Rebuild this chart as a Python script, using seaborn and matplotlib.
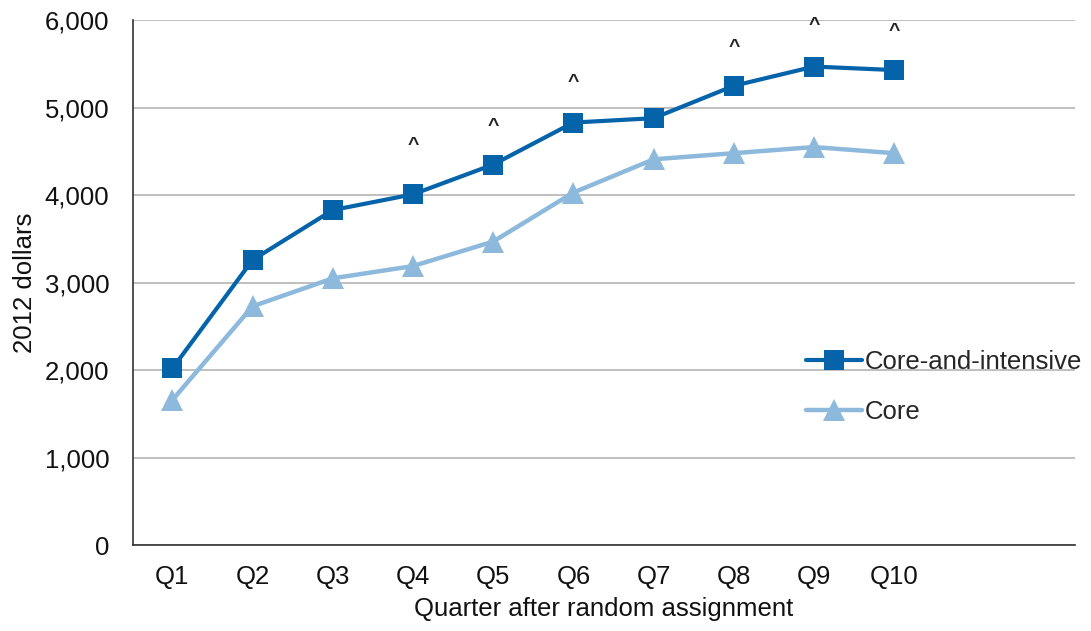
import numpy as np
import pandas as pd
import matplotlib
matplotlib.use("Agg")
import matplotlib.pyplot as plt
import seaborn as sns

quarters = ["Q1", "Q2", "Q3", "Q4", "Q5", "Q6", "Q7", "Q8", "Q9", "Q10"]
core_intensive = [2020, 3260, 3830, 4010, 4350, 4830, 4880, 5250, 5470, 5430]
core = [1660, 2730, 3050, 3190, 3470, 4030, 4410, 4480, 4550, 4480]
# quarters flagged with "^" and where the mark sits
caret_quarters = ["Q4", "Q5", "Q6", "Q8", "Q9", "Q10"]
caret_y = [4570, 4790, 5290, 5690, 5940, 5870]

sns.set_theme(style="white")
plt.rcParams["font.family"] = ["Liberation Sans", "DejaVu Sans"]

df = pd.DataFrame({"pos": np.arange(len(quarters)),
                   "Core-and-intensive": core_intensive,
                   "Core": core})

fig = plt.figure(figsize=(10.91, 6.31), dpi=100)
ax = fig.add_axes([0.122, 0.136, 0.863, 0.832])

sns.lineplot(data=df, x="pos", y="Core-and-intensive", ax=ax, color="#0563AA",
             linewidth=3, marker="s", markersize=15, markeredgewidth=0,
             label="Core-and-intensive")
sns.lineplot(data=df, x="pos", y="Core", ax=ax, color="#8CB9DC",
             linewidth=3.2, marker="^", markersize=16, markeredgewidth=0,
             label="Core")

for q, yv in zip(caret_quarters, caret_y):
    ax.text(quarters.index(q), yv, "^", ha="center", va="center",
            fontsize=14, fontweight="bold", color="#222222")

ax.set_ylim(0, 6000)
ax.set_xlim(-0.49, 11.25)
ax.set_yticks(range(0, 6001, 1000))
ax.set_yticklabels([f"{v:,}" for v in range(0, 6001, 1000)])
ax.set_xticks(df["pos"])
ax.set_xticklabels(quarters)
ax.yaxis.grid(True, color="#BFBFBF", linewidth=1.4)
ax.tick_params(axis="both", labelsize=18.5, length=0, colors="#111111")
ax.tick_params(axis="x", pad=14)
ax.tick_params(axis="y", pad=17)

for s in ["top", "right"]:
    ax.spines[s].set_visible(False)
for s in ["left", "bottom"]:
    ax.spines[s].set_color("#333333")
    ax.spines[s].set_linewidth(1.2)

ax.set_xlabel("Quarter after random assignment", fontsize=18.5, color="#111111", labelpad=6)
ax.set_ylabel("2012 dollars", fontsize=18.5, color="#111111", labelpad=6)

leg = ax.legend(loc="center left", bbox_to_anchor=(0.69, 0.301), frameon=False,
                fontsize=18.5, handlelength=2.2, handletextpad=0.1, labelspacing=1.0)

fig.savefig("out.png", dpi=100)
